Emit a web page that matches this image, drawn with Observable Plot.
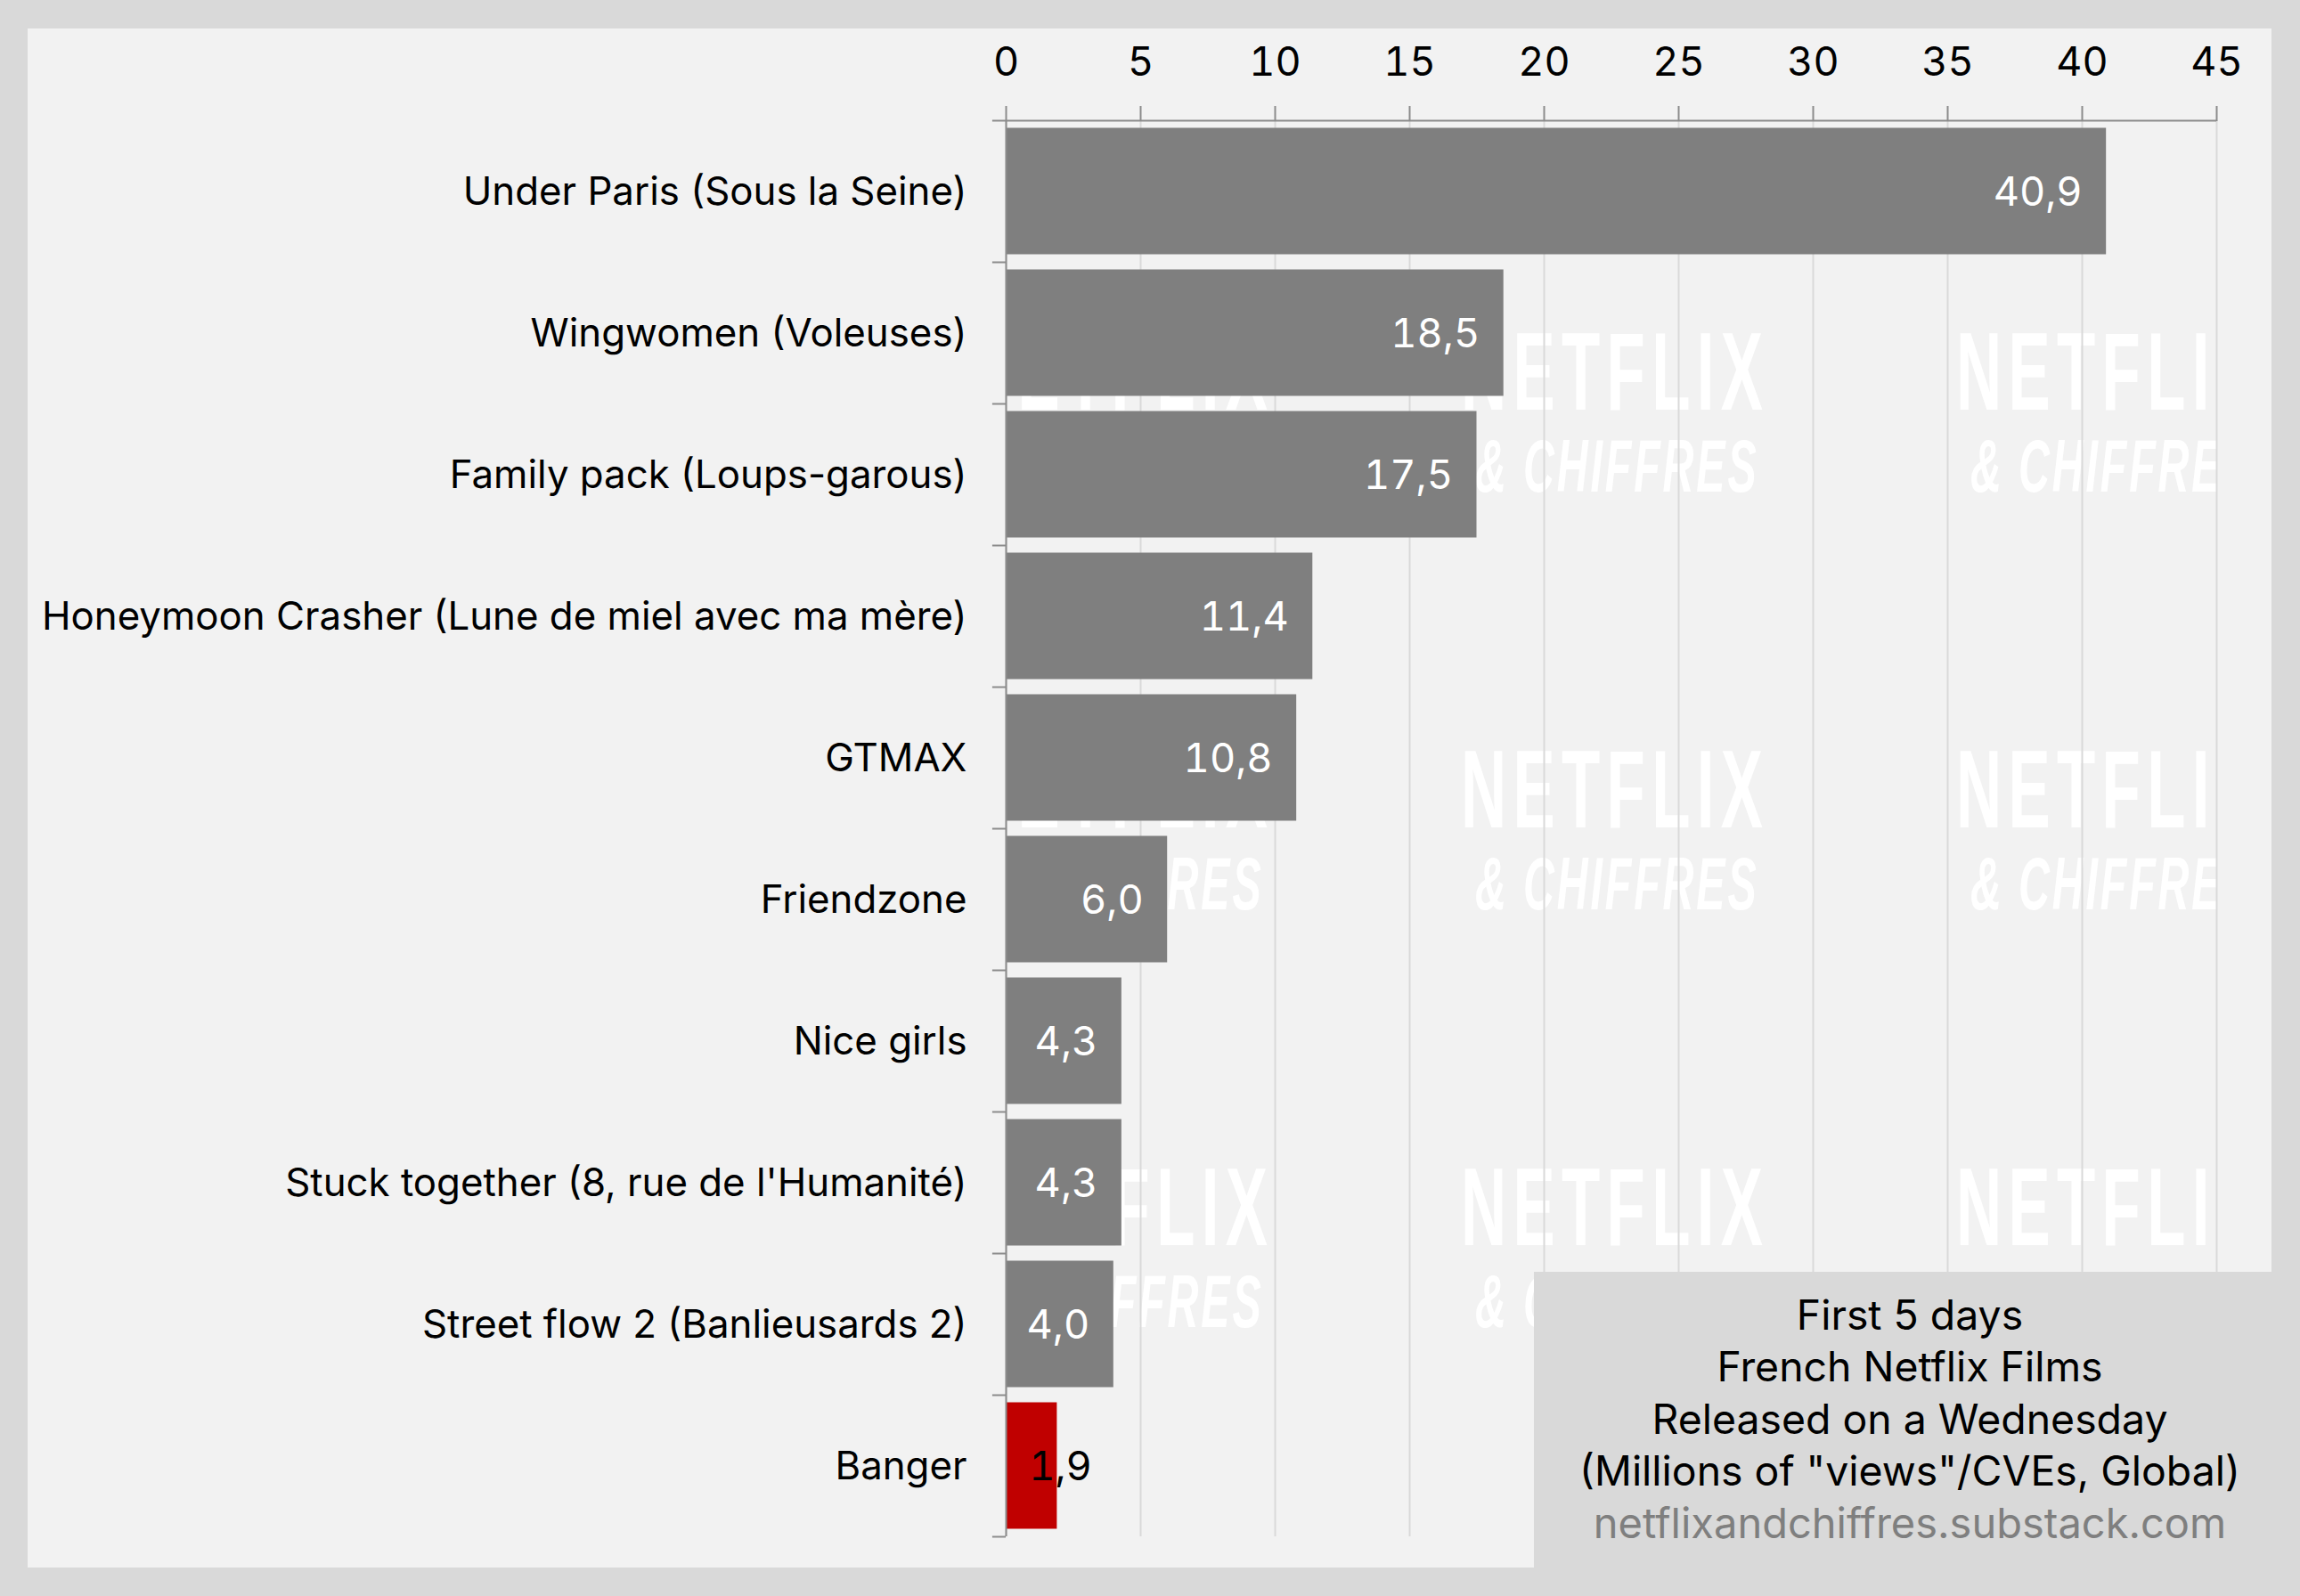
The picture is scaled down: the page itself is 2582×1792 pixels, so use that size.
<!DOCTYPE html>
<html><head><meta charset="utf-8">
<script src="https://cdn.jsdelivr.net/npm/d3@7"></script>
<script src="https://cdn.jsdelivr.net/npm/@observablehq/plot@0.6"></script>
<style>
html,body{margin:0;padding:0;background:#d9d9d9;width:2582px;height:1792px;overflow:hidden;font-family:Inter,sans-serif}
#panel{position:absolute;left:31px;top:32px;width:2519px;height:1728px;background:#f2f2f2}
#wm{position:absolute;left:1129px;top:135px;width:1359px;height:1590px;overflow:hidden}
#wm span{position:absolute;color:#fff;white-space:pre;transform-origin:0 0;font-family:"Liberation Sans Narrow","Liberation Sans",sans-serif;font-weight:700;line-height:1}
#chart{position:absolute;left:0;top:0}
#chart svg{background:transparent;display:block}
#legend{position:absolute;left:1722px;top:1428px;width:860px;height:364px;background:#d9d9d9;text-align:center;color:#000;font-size:46.4px;line-height:58.5px}
#legend .inner{position:absolute;left:0;width:844px;top:18.5px}
#legend .url{color:#7f7f7f;font-size:47px}
</style></head><body>
<div id="panel"></div>
<div id="wm"></div>
<div id="chart"></div>
<div id="legend"><div class="inner">
<div>First 5 days</div><div>French Netflix Films</div><div>Released on a Wednesday</div><div>(Millions of "views"/CVEs, Global)</div><div class="url">netflixandchiffres.substack.com</div>
</div></div>
<script>
const titles = ["Under Paris (Sous la Seine)","Wingwomen (Voleuses)","Family pack (Loups-garous)","Honeymoon Crasher (Lune de miel avec ma mère)","GTMAX","Friendzone","Nice girls","Stuck together (8, rue de l'Humanité)","Street flow 2 (Banlieusards 2)","Banger"];
const values = [40.9,18.5,17.5,11.4,10.8,6.0,4.3,4.3,4.0,1.9];
const highlighted = "Banger";
const xTicks = [0,5,10,15,20,25,30,35,40,45];
const rows = titles.map((title,i)=>({title,value:values[i],label:values[i].toFixed(1).replace(".",",")}));
const others = rows.filter(d=>d.title!==highlighted);
const focus = rows.filter(d=>d.title===highlighted);
const axisGray="#8c8c8c", gridGray="#d9d9d9", font=`Inter, sans-serif`;

// watermark
const wm=document.getElementById("wm");
for(const ry of [373,842,1311]) for(const cx of [1091,1647,2203]){
  const a=document.createElement("span");a.textContent="NETFLIX";
  a.style.cssText=`left:${cx-1129-7}px;top:${ry-135-19}px;font-size:125px;letter-spacing:13px;transform:scaleX(.566)`;wm.append(a);
  const b=document.createElement("span");b.textContent="& CHIFFRES";
  b.style.cssText=`left:${cx-1129+9}px;top:${ry-135+108}px;font-size:84px;font-style:italic;letter-spacing:5px;transform:scaleX(.575)`;wm.append(b);
}

const plot = Plot.plot({
  width:2582,height:1792,
  marginLeft:1129,marginRight:94,marginTop:135,marginBottom:67,
  style:{background:"transparent",fontFamily:font},
  x:{domain:[0,45],ticks:xTicks},
  y:{domain:titles,paddingInner:0.107,paddingOuter:0.0535,round:false,label:null},
  marks:[
    Plot.gridX(xTicks,{stroke:gridGray,strokeOpacity:1,strokeWidth:2}),
    Plot.barX(rows,{x:"value",y:"title",fill:d=>d.title===highlighted?"#c00000":"#7f7f7f"}),
    Plot.ruleX([0],{stroke:axisGray,strokeWidth:2}),
    Plot.ruleY(titles,{y:d=>d,dy:79.5,x1:-0.5,x2:0,stroke:axisGray,strokeWidth:2}),
    Plot.ruleY([titles[0]],{y:d=>d,dy:-79.5,x1:-0.5,x2:45,stroke:axisGray,strokeWidth:2}),
    Plot.axisX(xTicks,{anchor:"top",label:null,tickSize:17,tickPadding:34,stroke:axisGray,strokeWidth:2,fontSize:45,fill:"#000",tickFormat:d=>String(d)}),
    Plot.axisY({anchor:"left",label:null,tickSize:0,tickPadding:44,fontSize:43.8,dy:1,fill:"#000",textOverflow:null,lineWidth:Infinity}),
    Plot.text(others,{x:"value",y:"title",text:"label",textAnchor:"end",dx:-27,dy:2,fill:"#fff",fontSize:45.2,fontVariant:"tabular-nums"}),
    Plot.text(focus,{x:"value",y:"title",text:"label",textAnchor:"end",dx:39,dy:2,fill:"#000",fontSize:45.2,fontVariant:"tabular-nums"})
  ]
});
document.getElementById("chart").append(plot);
</script></body></html>
